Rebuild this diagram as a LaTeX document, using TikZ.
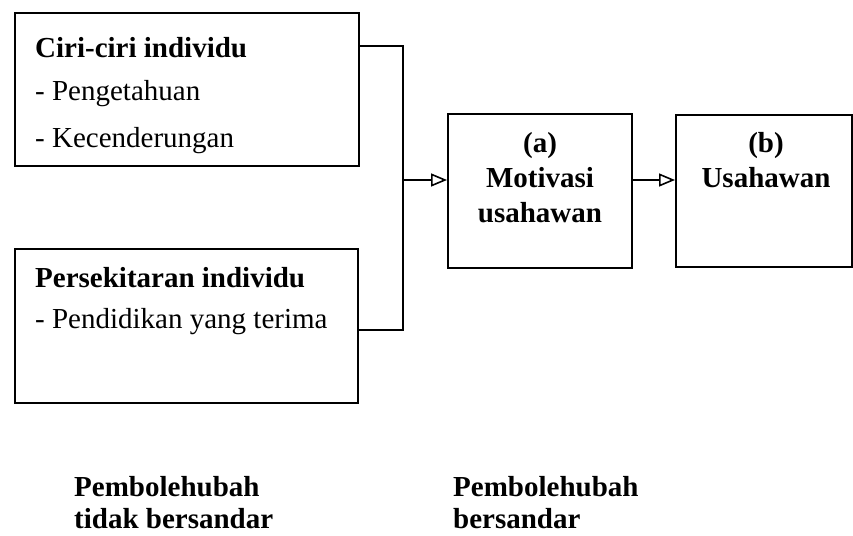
\documentclass[tikz,border=0pt]{standalone}
\usepackage{fontspec}
\setmainfont{Liberation Serif}
\usetikzlibrary{arrows.meta,calc}
\begin{document}
\begin{tikzpicture}[x=1pt,y=-1pt,
  box/.style={draw,line width=1.6pt,inner sep=0pt,anchor=north west},
  txt/.style={inner sep=0pt,font=\fontsize{29}{34}\selectfont},
  lt/.style={txt,anchor=base west},
  bt/.style={txt,anchor=base west,font=\fontsize{29}{34}\selectfont\bfseries},
  ct/.style={txt,anchor=base,font=\fontsize{29}{34}\selectfont\bfseries},
  conn/.style={line width=1.6pt},
  arr/.style={conn,-{Triangle[open,length=16pt,width=13pt,line width=1.6pt]}}
]
\useasboundingbox (0,0) rectangle (853,535);
% boxes
\node[box,minimum width=344pt,minimum height=153pt] (b1) at (14,12) {};
\node[box,minimum width=343pt,minimum height=154pt] (b2) at (14,248) {};
\node[box,minimum width=184pt,minimum height=154pt] (ba) at (447,113) {};
\node[box,minimum width=176pt,minimum height=152pt] (bb) at (675,114) {};
% texts box 1
\node[bt] (t1) at (35,57) {Ciri-ciri individu};
\node[lt] (t2) at (35,100) {- Pengetahuan};
\node[lt] (t3) at (35,147) {- Kecenderungan};
% texts box 2
\node[bt] (t4) at (35,287) {Persekitaran individu};
\node[lt] (t5) at (35,328) {- Pendidikan yang terima};
% box a
\node[ct] (ta1) at (540,152) {(a)};
\node[ct] (ta2) at (540,187) {Motivasi};
\node[ct] (ta3) at (540,222) {usahawan};
% box b
\node[ct] (tb1) at (766,152) {(b)};
\node[ct] (tb2) at (766,187) {Usahawan};
% bottom labels
\node[bt] (l1) at (74,496) {Pembolehubah};
\node[bt] (l2) at (74,528) {tidak bersandar};
\node[bt] (l3) at (453,496) {Pembolehubah};
\node[bt] (l4) at (453,528) {bersandar};
% connectors
\coordinate (j) at (403,180);
\draw[conn] ($(b1.north east)+(0,34)$) -| (j);
\draw[conn] ($(b2.north east)+(0,82)$) -| (j);
\draw[arr] (j) -- (ba.west |- j);
\draw[arr] (ba.east |- j) -- (bb.west |- j);
\end{tikzpicture}
\end{document}
